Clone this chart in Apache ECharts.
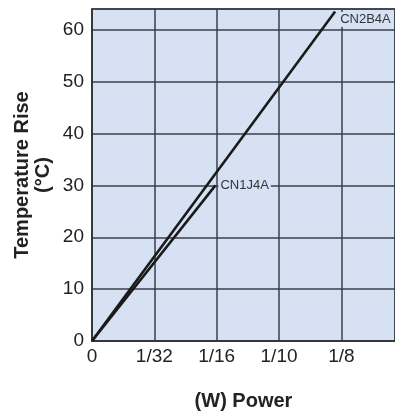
<!DOCTYPE html>
<html><head><meta charset="utf-8">
<script src="https://cdn.jsdelivr.net/npm/echarts@6/dist/echarts.min.js"></script>
<style>html,body{margin:0;padding:0;background:#fff}#c{width:395px;height:416px}</style>
</head><body><div id="c"></div>
<script>
var xTickLabels = ['0', '1/32', '1/16', '1/10', '1/8'];
var cn2b4a = [[0, 0], [3.9, 63.5]];
var cn1j4a = [[0, 0], [1.98, 30]];
var seriesNames = ['CN2B4A', 'CN1J4A'];

var chart = echarts.init(document.getElementById('c'));
var font = '"Liberation Sans", Arial, Helvetica, sans-serif';
var bg = '#d6e2f3';
var gridC = '#3a3f4a';
function mkSeries(name, data, off) {
  return {
    name: name, type: 'line', data: data, symbol: 'none', animation: false,
    lineStyle: { color: '#1a1a1a', width: 2.6 },
    endLabel: {
      show: true, formatter: name, distance: 3, offset: off,
      color: '#333', fontSize: 13, fontFamily: font,
      backgroundColor: bg, padding: [1, 2]
    }
  };
}
chart.setOption({
  animation: false,
  grid: { left: 92, right: -3, top: 9, bottom: 73, show: true, backgroundColor: bg, borderColor: '#333', borderWidth: 1.5 },
  xAxis: {
    type: 'value', min: 0, max: 4.86, interval: 1,
    name: '(W) Power', nameLocation: 'middle', nameGap: 50,
    nameTextStyle: { fontSize: 20, fontWeight: 'bold', color: '#222', fontFamily: font },
    axisLine: { show: true, lineStyle: { color: '#333', width: 1.5 } },
    axisTick: { show: false },
    axisLabel: {
      fontSize: 19, color: '#222', fontFamily: font, margin: 6, showMaxLabel: false,
      formatter: function (v) { var i = Math.round(v); return Math.abs(v - i) < 1e-6 && xTickLabels[i] !== undefined ? xTickLabels[i] : ''; }
    },
    splitLine: { show: true, lineStyle: { color: gridC, width: 1.5 } }
  },
  yAxis: {
    type: 'value', min: 0, max: 64, interval: 10,
    name: 'Temperature Rise\n(°C)', nameLocation: 'middle', nameGap: 38, nameRotate: 90, nameMoveOverlap: false,
    nameTextStyle: { fontSize: 20, fontWeight: 'bold', color: '#222', fontFamily: font, lineHeight: 21 },
    axisLine: { show: true, lineStyle: { color: '#333', width: 1.5 } },
    axisTick: { show: false },
    axisLabel: { fontSize: 19, color: '#222', fontFamily: font, margin: 8, showMaxLabel: false },
    splitLine: { show: true, lineStyle: { color: gridC, width: 1.5 } }
  },
  series: [mkSeries(seriesNames[0], cn2b4a, [0, 8]), mkSeries(seriesNames[1], cn1j4a, [0, 0])]
});
</script></body></html>
